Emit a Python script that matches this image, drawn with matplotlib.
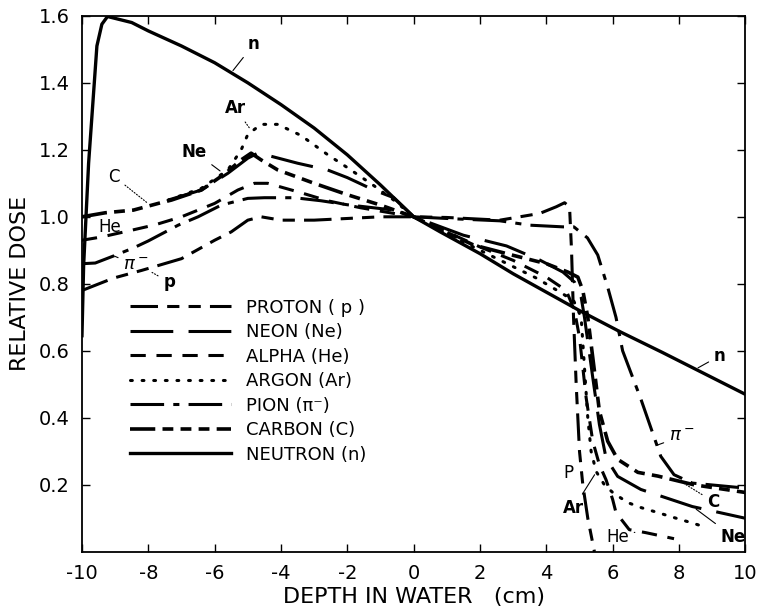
import matplotlib
matplotlib.use("Agg")
import matplotlib.pyplot as plt

# depth (cm) and relative dose
depth_n = [-10, -9.95, -9.8, -9.55, -9.4, -9.23, -8.5, -8, -7, -6, -5, -4, -3, -2, -1, 0, 0.8, 2, 3, 4, 5, 6.2, 7.5, 8.5, 10]
dose_n = [0.645, 0.855, 1.16, 1.51, 1.575, 1.598, 1.58, 1.555, 1.51, 1.46, 1.40, 1.335, 1.265, 1.185, 1.095, 1.0, 0.955, 0.89, 0.83, 0.775, 0.72, 0.658, 0.595, 0.545, 0.47]

depth_p = [-10, -9.05, -8.2, -7, -6, -5.5, -5.0, -4.6, -4.0, -3.0, -2, -1, 0, 1, 2.6, 3.8, 4.3, 4.55, 4.7, 4.76, 4.82, 4.9, 5.0, 5.1, 5.25, 5.45]
dose_p = [0.78, 0.817, 0.84, 0.875, 0.93, 0.955, 0.99, 1.0, 0.99, 0.99, 0.995, 1.0, 1.0, 0.998, 0.99, 1.01, 1.03, 1.042, 1.03, 0.9, 0.7, 0.5, 0.3, 0.2, 0.1, 0.0]

depth_ne = [-7.4, -6.4, -5.6, -5.0, -4.7, -4.5, -3.5, -2.6, -2, -1.2, -0.6, 0, 1.5, 2.8, 3.8, 4.5, 4.85, 5.05, 5.15, 5.4, 5.6, 5.8, 6.15, 6.85, 8.4, 10]
dose_ne = [1.05, 1.08, 1.13, 1.175, 1.19, 1.186, 1.16, 1.14, 1.117, 1.08, 1.057, 1.0, 0.945, 0.913, 0.871, 0.835, 0.805, 0.76, 0.70, 0.52, 0.38, 0.28, 0.225, 0.186, 0.135, 0.10]

depth_he = [-10, -9.4, -8.5, -7.8, -7, -6, -5.3, -4.8, -4.4, -3.4, -2.6, -1.6, 0, 2, 3, 4, 4.6, 4.85, 5.0, 5.2, 5.4, 5.6, 5.8, 6.0, 6.1, 6.5, 7.0, 7.85]
dose_he = [0.93, 0.94, 0.96, 0.976, 1.0, 1.04, 1.08, 1.10, 1.10, 1.072, 1.048, 1.027, 1.0, 0.91, 0.87, 0.82, 0.78, 0.72, 0.64, 0.46, 0.33, 0.26, 0.215, 0.156, 0.117, 0.066, 0.057, 0.039]

depth_ar = [-7.4, -6.4, -5.6, -5.2, -5.0, -4.6, -4.1, -3.4, -2.6, -2, -1.2, -0.6, 0, 2, 3.7, 4.5, 4.83, 5.05, 5.15, 5.25, 5.35, 5.5, 5.75, 6.0, 6.45, 6.85, 7.36, 7.85, 8.36, 8.75]
dose_ar = [1.05, 1.085, 1.14, 1.2, 1.246, 1.276, 1.276, 1.243, 1.186, 1.147, 1.093, 1.05, 1.0, 0.90, 0.817, 0.77, 0.748, 0.70, 0.55, 0.40, 0.30, 0.24, 0.20, 0.177, 0.147, 0.132, 0.117, 0.102, 0.087, 0.075]

depth_pi = [-10, -9.6, -9.05, -8.45, -8.0, -7.1, -6.5, -5.8, -5.0, -4.5, -3.6, -2.8, -2, -0.6, 0, 1, 2.6, 3.5, 4.5, 4.83, 5.24, 5.55, 5.85, 6.1, 6.3, 6.85, 7.45, 7.85, 8.4, 10]
dose_pi = [0.86, 0.862, 0.883, 0.907, 0.928, 0.975, 1.0, 1.035, 1.055, 1.057, 1.057, 1.048, 1.036, 1.02, 1.0, 0.995, 0.988, 0.975, 0.97, 0.97, 0.937, 0.886, 0.79, 0.70, 0.60, 0.456, 0.285, 0.23, 0.205, 0.19]

depth_c = [-10, -9.3, -8.45, -7.7, -7.3, -6.4, -5.67, -5.2, -4.9, -4.6, -4.1, -3, -2, -1, 0, 1.8, 3.0, 4.0, 4.65, 4.95, 5.1, 5.25, 5.4, 5.6, 5.85, 6.15, 6.76, 7.36, 8.45, 10]
dose_c = [1.0, 1.012, 1.02, 1.04, 1.05, 1.08, 1.13, 1.17, 1.19, 1.17, 1.14, 1.10, 1.066, 1.035, 1.0, 0.916, 0.885, 0.86, 0.835, 0.82, 0.78, 0.70, 0.58, 0.42, 0.33, 0.276, 0.237, 0.226, 0.20, 0.177]

labels = ['PROTON ( p )', 'NEON (Ne)', 'ALPHA (He)', 'ARGON (Ar)', 'PION (π⁻)', 'CARBON (C)', 'NEUTRON (n)']

plt.rcParams['font.family'] = ['DejaVu Sans']

fig = plt.figure(figsize=(7.59, 6.09), dpi=100)
ax = fig.add_axes([0.108, 0.094, 0.874, 0.880])

lw = 2.2
ax.plot(depth_p, dose_p, color='black', lw=lw, dashes=[9, 3, 4, 3, 4, 3], label=labels[0])
ax.plot(depth_ne, dose_ne, color='black', lw=lw, dashes=[14, 5], label=labels[1])
ax.plot(depth_he, dose_he, color='black', lw=lw, dashes=[5, 3.5], label=labels[2])
ax.plot(depth_ar, dose_ar, color='black', lw=lw, dashes=[0.6, 3.2], dash_capstyle='round', label=labels[3])
ax.plot(depth_pi, dose_pi, color='black', lw=lw, dashes=[11, 3, 2, 3], label=labels[4])
ax.plot(depth_c, dose_c, color='black', lw=2.6, dashes=[7, 2, 3, 2, 3, 2, 3, 2], label=labels[5])
ax.plot(depth_n, dose_n, color='black', lw=2.4, label=labels[6])

# curve labels with leader lines
lead = dict(arrowstyle='-', color='black', lw=0.8)
fs = 12
ax.annotate('n', xy=(-5.5, 1.43), xytext=(-5.0, 1.5), fontsize=fs, fontweight='bold', arrowprops=lead)
ax.annotate('Ar', xy=(-4.9, 1.258), xytext=(-5.7, 1.31), fontsize=fs, fontweight='bold', arrowprops=dict(lead, ls=':'))
ax.annotate('Ne', xy=(-5.77, 1.132), xytext=(-7.0, 1.18), fontsize=fs, fontweight='bold', arrowprops=lead)
ax.annotate('C', xy=(-7.96, 1.036), xytext=(-9.2, 1.105), fontsize=fs, arrowprops=dict(lead, ls=':'))
ax.text(-9.5, 0.955, 'He', fontsize=fs)
ax.annotate('$\\pi^-$', xy=(-9.1, 0.886), xytext=(-8.75, 0.84), fontsize=fs + 1, arrowprops=lead)
ax.annotate('p', xy=(-7.96, 0.838), xytext=(-7.55, 0.79), fontsize=fs, fontweight='bold', arrowprops=dict(lead, ls=':'))

ax.annotate('n', xy=(8.5, 0.545), xytext=(9.05, 0.57), fontsize=fs, fontweight='bold', arrowprops=lead)
ax.annotate('$\\pi^-$', xy=(7.25, 0.315), xytext=(7.7, 0.33), fontsize=fs + 1, arrowprops=lead)
ax.annotate('C', xy=(8.05, 0.21), xytext=(8.85, 0.135), fontsize=fs, fontweight='bold', arrowprops=dict(lead, ls=':'))
ax.annotate('Ne', xy=(8.45, 0.132), xytext=(9.25, 0.03), fontsize=fs, fontweight='bold', arrowprops=lead)
ax.annotate('He', xy=(6.75, 0.06), xytext=(5.8, 0.03), fontsize=fs, arrowprops=dict(lead, ls='--'))
ax.annotate('Ar', xy=(5.5, 0.237), xytext=(4.5, 0.115), fontsize=fs, fontweight='bold', arrowprops=lead)
ax.text(4.5, 0.22, 'P', fontsize=fs)

ax.set_xlim(-10, 10)
ax.set_ylim(0, 1.6)
ax.set_xticks(range(-10, 11, 2))
ax.set_xticklabels([str(v) for v in range(-10, 11, 2)])
ax.set_yticks([0.2, 0.4, 0.6, 0.8, 1.0, 1.2, 1.4, 1.6])
ax.set_yticklabels(['0.2', '0.4', '0.6', '0.8', '1.0', '1.2', '1.4', '1.6'])
ax.tick_params(direction='in', top=True, right=True, length=6, width=1, labelsize=14, pad=9)
for s in ax.spines.values():
    s.set_linewidth(1.3)

ax.set_xlabel('DEPTH IN WATER   (cm)', fontsize=16, labelpad=3)
ax.set_ylabel('RELATIVE DOSE', fontsize=16, labelpad=6)

ax.legend(loc='upper left', bbox_to_anchor=(0.0725, 0.472), frameon=False, fontsize=13,
          handlelength=5.6, handletextpad=0.8, labelspacing=0.36, borderpad=0, borderaxespad=0)

fig.savefig('out.png', dpi=100)
